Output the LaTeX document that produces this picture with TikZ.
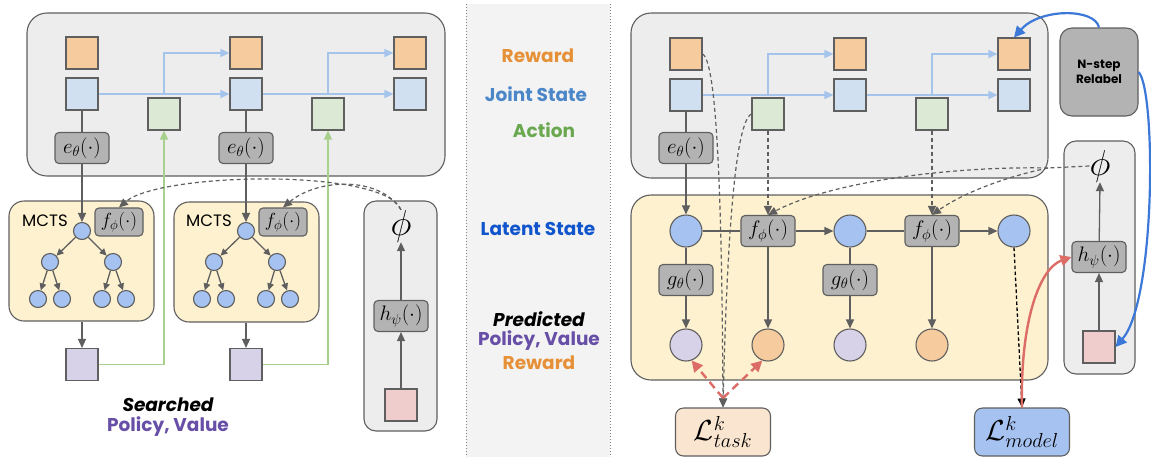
\RequirePackage{fix-cm}
\documentclass[tikz,border=0pt]{standalone}
\usepackage{fontspec}
\newfontfamily\pop{Poppins}
\usetikzlibrary{arrows.meta,calc}
\definecolor{edge}{HTML}{5F5F5F}
\definecolor{panelgray}{HTML}{EDEDED}
\definecolor{midgray}{HTML}{F3F3F3}
\definecolor{fngray}{HTML}{B3B3B3}
\definecolor{sqorange}{HTML}{F6CB9E}
\definecolor{sqblue}{HTML}{D1E0F0}
\definecolor{sqgreen}{HTML}{DCE9D5}
\definecolor{sqpurple}{HTML}{D7D2E8}
\definecolor{sqpink}{HTML}{F0CDCD}
\definecolor{cblue}{HTML}{A6C2F0}
\definecolor{yel}{HTML}{FDF1CF}
\definecolor{ltask}{HTML}{FAE5D0}
\definecolor{lmodel}{HTML}{A6C2F0}
\definecolor{lineblue}{HTML}{A4C4EC}
\definecolor{linegreen}{HTML}{A8D08D}
\definecolor{red1}{HTML}{DC6C66}
\definecolor{blue1}{HTML}{3C78D8}
\definecolor{torange}{HTML}{E69138}
\definecolor{tjoint}{HTML}{4A86C8}
\definecolor{tgreen}{HTML}{6AA84F}
\definecolor{tlatent}{HTML}{1155CC}
\definecolor{tpurple}{HTML}{674EA7}
\tikzset{
  sq/.style={draw=edge, line width=1.1pt, minimum size=32pt, inner sep=0pt},
  fn/.style={draw=edge, fill=fngray, line width=1.1pt, rounded corners=4pt, minimum width=54pt, minimum height=31pt, inner sep=0pt, font=\fontsize{21}{21}\selectfont},
  fns/.style={fn, minimum width=48pt, minimum height=28pt, font=\fontsize{19}{19}\selectfont},
  bigc/.style={circle, draw=edge, line width=1.1pt, minimum size=32pt, inner sep=0pt},
  tc/.style={circle, draw=edge, fill=cblue, line width=1.1pt, minimum size=17pt, inner sep=0pt},
  panel/.style={draw=edge, line width=1.1pt, fill=panelgray, inner sep=0pt},
  ln/.style={draw=edge, line width=1.3pt},
  arr/.style={ln, -{Triangle[length=9pt,width=8pt]}},
  sarr/.style={ln, -{Triangle[length=7pt,width=6.5pt]}},
  barr/.style={draw=lineblue, line width=1.3pt, -{Triangle[length=9pt,width=8pt]}},
  garr/.style={draw=linegreen, line width=1.3pt, -{Triangle[length=9pt,width=8pt]}},
  dsh/.style={draw=edge, line width=1.2pt, dash pattern=on 4pt off 3pt},
  darr/.style={dsh, -{Triangle[length=9pt,width=8pt]}},
  kdarr/.style={draw=black, line width=1.3pt, dash pattern=on 3.5pt off 2.5pt, -{Triangle[length=9pt,width=8pt]}},
  rdarr/.style={draw=red1, line width=2.4pt, dash pattern=on 8pt off 5pt, -{Triangle[length=11pt,width=11pt]}},
  rarr/.style={draw=red1, line width=2.4pt, -{Triangle[length=11pt,width=11pt]}},
  blarr/.style={draw=blue1, line width=2.2pt, -{Triangle[length=11pt,width=11pt]}},
  lab/.style={font=\pop\bfseries\fontsize{18.5}{18.5}\selectfont, inner sep=0pt},
  bigm/.style={font=\fontsize{29}{29}\selectfont},
}
\begin{document}
\begin{tikzpicture}[x=1pt,y=-1pt]
\useasboundingbox (0,0) rectangle (1151,459);
% ---------------- middle band
\fill[midgray] (466,4) rectangle (610,457);
\draw[edge!80, line width=1pt, dotted] (466,4) -- (466,457);
\draw[edge!80, line width=1pt, dotted] (610,4) -- (610,457);
\node[lab, text=torange] (tr1) at (538,56) {Reward};
\node[lab, text=tjoint] (tjs) at (536,94) {Joint State};
\node[lab, text=tgreen] (tac) at (544,130) {Action};
\node[lab, text=tlatent] (tls) at (538,229) {Latent State};
\node[lab, text=black, font=\pop\bfseries\itshape\fontsize{18.5}{18.5}\selectfont] (tpd) at (539,319) {Predicted};
\node[lab, text=tpurple] (tpv) at (539,341) {Policy, Value};
\node[lab, text=torange] (tr2) at (539,363) {Reward};

% ---------------- left panel
\node[panel, rounded corners=20pt, minimum width=418pt, minimum height=163pt] (ltop) at (236,94.5) {};
\node[panel, fill=yel, rounded corners=15pt, minimum width=145pt, minimum height=120pt] (m1) at (81.5,261) {};
\node[panel, fill=yel, rounded corners=15pt, minimum width=145pt, minimum height=120pt] (m2) at (246.5,262) {};
\node[panel, rounded corners=12pt, minimum width=73pt, minimum height=230pt] (lh) at (400.5,316) {};

\foreach \i/\x in {1/82,2/246,3/410}{
  \node[sq, fill=sqorange] (o\i) at (\x,53) {};
  \node[sq, fill=sqblue] (b\i) at (\x,94) {};
}
\node[sq, fill=sqgreen] (g1) at (164,114) {};
\node[sq, fill=sqgreen] (g2) at (328,114) {};
\node[fn] (e1) at (82,148) {$e_\theta(\cdot)$};
\node[fn] (e2) at (246,148) {$e_\theta(\cdot)$};

\draw[barr] (b1.east) -- (b2.west);
\draw[barr] (g1 |- b1.east) |- (o2.west);
\draw[barr] (b2.east) -- (b3.west);
\draw[barr] (g2 |- b2.east) |- (o3.west);

\foreach \k/\dx in {1/0,2/164}{
  \node[font=\pop\fontsize{16.5}{16.5}\selectfont, inner sep=0pt] (mt\k) at (45+\dx,221) {MCTS};
  \node[fns] (f\k) at (119+\dx,222) {$f_\phi(\cdot)$};
  \node[tc] (r\k) at (82+\dx,231) {};
  \node[tc] (ca\k) at (50+\dx,262) {};
  \node[tc] (cb\k) at (113+\dx,262) {};
  \node[tc] (la\k) at (38+\dx,299) {};
  \node[tc] (lb\k) at (62+\dx,299) {};
  \node[tc] (lc\k) at (102+\dx,299) {};
  \node[tc] (ld\k) at (126+\dx,299) {};
  \draw[sarr] (r\k) -- (ca\k);
  \draw[sarr] (r\k) -- (cb\k);
  \draw[sarr] (ca\k) -- (la\k);
  \draw[sarr] (ca\k) -- (lb\k);
  \draw[sarr] (cb\k) -- (lc\k);
  \draw[sarr] (cb\k) -- (ld\k);
  \node[sq, fill=sqpurple] (p\k) at (82+\dx,364.5) {};
  \draw[arr] (m\k.south -| p\k) -- (p\k.north);
}
\draw[ln] (b1) -- (e1);
\draw[arr] (e1) -- (r1);
\draw[ln] (b2) -- (e2);
\draw[arr] (e2) -- (r2);
\draw[garr] (p1.east) -| (g1.south);
\draw[garr] (p2.east) -| (g2.south);

\node[inner sep=0pt, font=\fontsize{36}{36}\selectfont] (phi1) at (401,226) {$\phi$};
\node[fn] (h1) at (401,316) {$h_\psi(\cdot)$};
\node[sq, fill=sqpink] (k1) at (401,405) {};
\draw[arr] (k1) -- (h1);
\draw[arr] (h1) -- (phi1.south);
\draw[darr] (phi1.north) .. controls (385,168) and (160,172) .. (f1.north);
\draw[darr] (phi1.north) .. controls (380,176) and (318,178) .. (f2.north);

\node[font=\pop\bfseries\itshape\fontsize{18.5}{18.5}\selectfont, inner sep=0pt] (srch) at (168,405) {Searched};
\node[lab, text=tpurple] (spv) at (168,427) {Policy, Value};

% ---------------- right panel
\node[panel, rounded corners=20pt, minimum width=417pt, minimum height=165pt] (rtop) at (839.5,95.5) {};
\node[panel, fill=yel, rounded corners=20pt, minimum width=417pt, minimum height=185pt] (ryel) at (839.5,287.5) {};
\node[panel, fill=fngray, rounded corners=12pt, minimum width=78pt, minimum height=88pt, align=center, font=\pop\bfseries\fontsize{12}{15}\selectfont] (ns) at (1099,72) {N-step\\Relabel};
\node[panel, rounded corners=12pt, minimum width=71pt, minimum height=233pt] (rh) at (1099.5,257.5) {};

\foreach \i/\x in {1/686,2/850,3/1014}{
  \node[sq, fill=sqorange] (ro\i) at (\x,54) {};
  \node[sq, fill=sqblue] (rb\i) at (\x,95) {};
}
\node[sq, fill=sqgreen] (ra1) at (768,114) {};
\node[sq, fill=sqgreen] (ra2) at (932,114) {};
\node[fn] (re1) at (686,148) {$e_\theta(\cdot)$};
\draw[barr] (rb1.east) -- (rb2.west);
\draw[barr] (ra1 |- rb1.east) |- (ro2.west);
\draw[barr] (rb2.east) -- (rb3.west);
\draw[barr] (ra2 |- rb2.east) |- (ro3.west);

\node[bigc, fill=cblue] (c1) at (686,231) {};
\node[bigc, fill=cblue] (c2) at (850,231) {};
\node[bigc, fill=cblue] (c3) at (1014,231) {};
\node[fn] (rf1) at (768,231) {$f_\phi(\cdot)$};
\node[fn] (rf2) at (932,231) {$f_\phi(\cdot)$};
\node[fn] (rg1) at (686,280) {$g_\theta(\cdot)$};
\node[fn] (rg2) at (850,280) {$g_\theta(\cdot)$};
\node[bigc, fill=sqpurple] (q1) at (686,345) {};
\node[bigc, fill=sqorange] (q2) at (768,345) {};
\node[bigc, fill=sqpurple] (q3) at (850,345) {};
\node[bigc, fill=sqorange] (q4) at (932,345) {};

\draw[ln] (rb1) -- (re1);
\draw[arr] (re1) -- (c1);
\draw[ln] (c1) -- (rf1);
\draw[arr] (rf1) -- (c2);
\draw[ln] (c2) -- (rf2);
\draw[arr] (rf2) -- (c3);
\draw[ln] (c1) -- (rg1);
\draw[arr] (rg1) -- (q1);
\draw[ln] (c2) -- (rg2);
\draw[arr] (rg2) -- (q3);
\draw[arr] (rf1) -- (q2);
\draw[arr] (rf2) -- (q4);

\node[panel, fill=ltask, rounded corners=8pt, minimum width=95pt, minimum height=48pt, bigm] (lt) at (723,432) {$\mathcal{L}^k_{task}$};
\node[panel, fill=lmodel, rounded corners=8pt, minimum width=95pt, minimum height=48pt, bigm] (lm) at (1022,432) {$\mathcal{L}^k_{model}$};

\node[inner sep=0pt, font=\fontsize{36}{36}\selectfont] (phi2) at (1100,166) {$\phi$};
\node[fn] (h2) at (1099,257) {$h_\psi(\cdot)$};
\node[sq, fill=sqpink] (k2) at (1099,347) {};
\draw[arr] (k2) -- (h2);
\draw[arr] (h2) -- (phi2.south);

\draw[darr] (ra1) -- (rf1);
\draw[darr] (ra2) -- (rf2);
\coordinate (pj) at (1048,168);
\draw[dsh] (phi2.west) -- (pj);
\draw[darr] (pj) .. controls (1000,178) and (960,195) .. (rf2.north);
\draw[darr] (pj) .. controls (950,166) and (830,182) .. (rf1.north);
\draw[darr] (ro1.east) .. controls (718,62) and (722,220) .. (lt.north);
\draw[darr] (ra1.west) .. controls (735,122) and (727,240) .. (lt.north);

\coordinate (rt) at (723,398);
\draw[rdarr] (rt) -- (q1.-70);
\draw[rdarr] (rt) -- (q2.-110);
\draw[kdarr] (c3.south) -- (lm.north);
\draw[rarr] (lm.north) .. controls (1020,320) and (1040,268) .. (h2.west);
\draw[blarr] (ns.north) .. controls (1095,8) and (1040,8) .. (ro3.north);
\draw[blarr] (ns.east) .. controls (1156,90) and (1156,300) .. (k2.east);
\end{tikzpicture}
\end{document}
